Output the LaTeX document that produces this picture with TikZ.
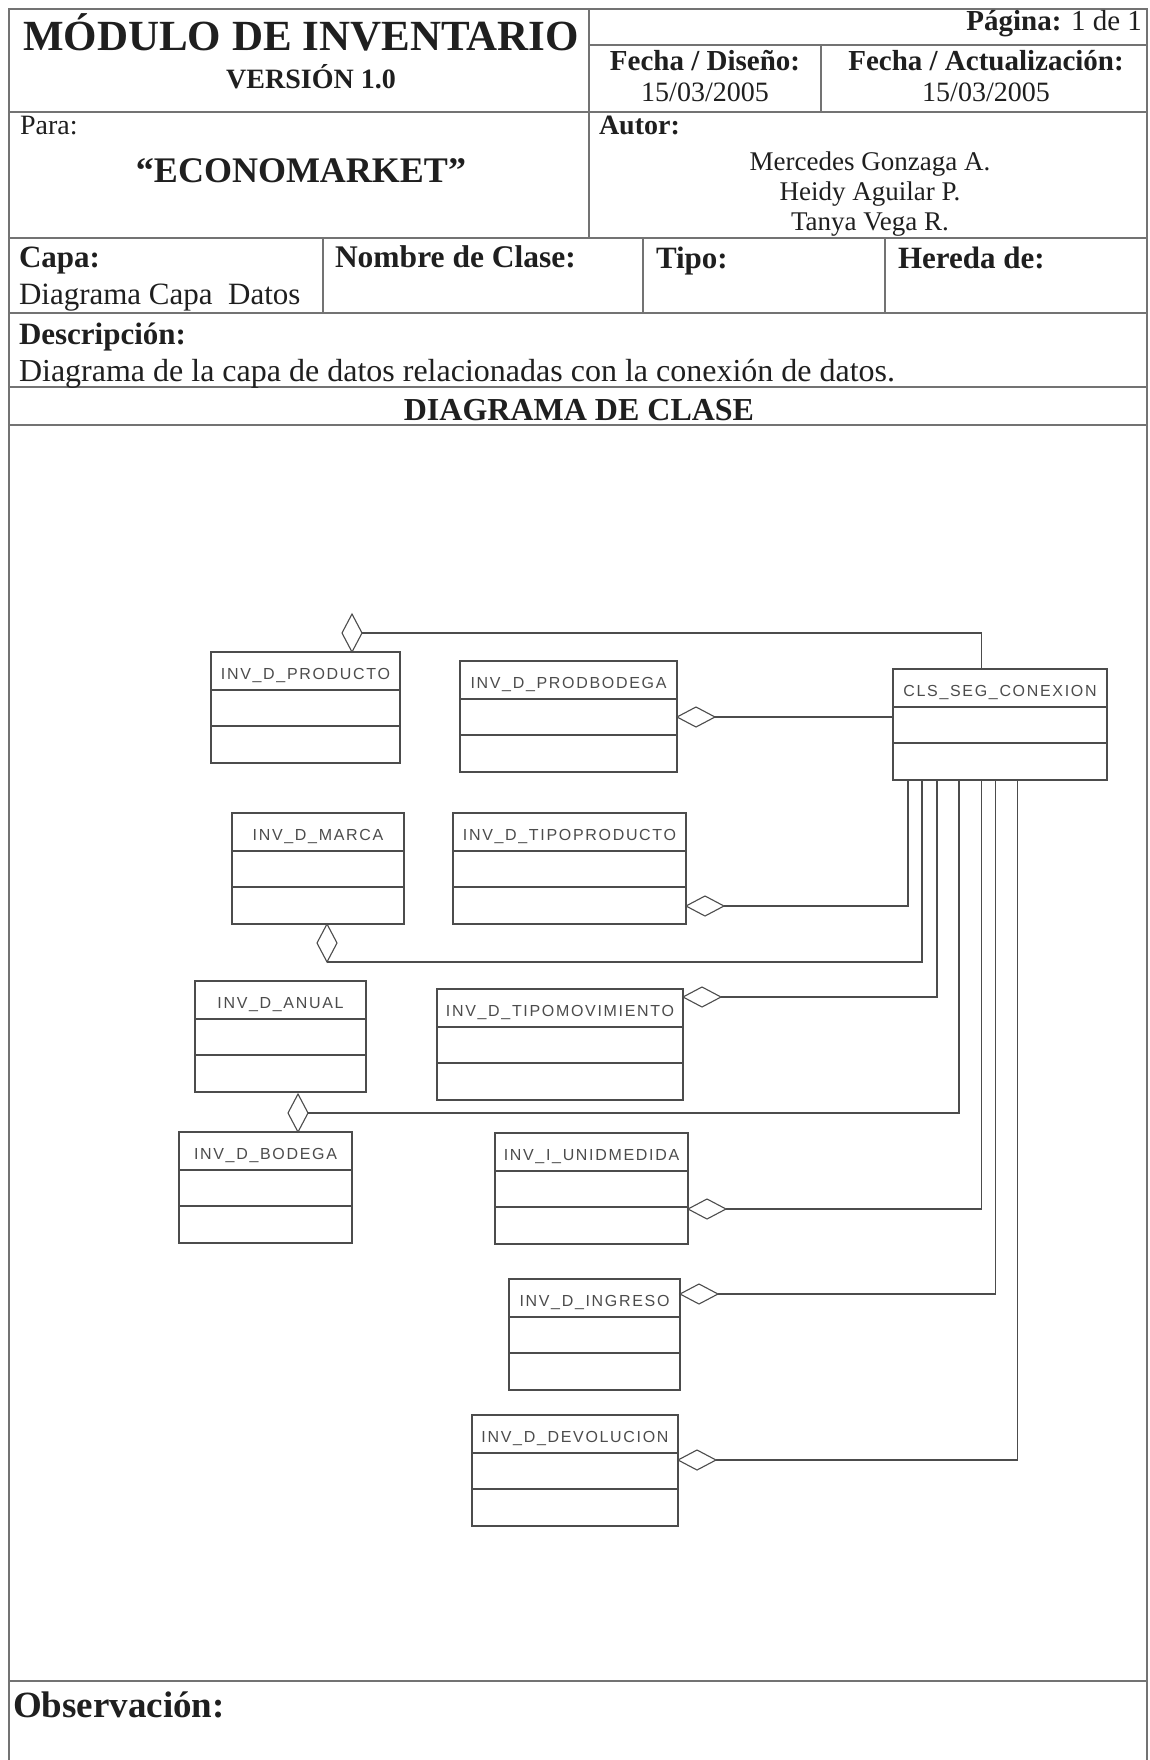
\documentclass[tikz,border=0pt]{standalone}
\usepackage{fontspec}
\setmainfont{Liberation Serif}
\newfontfamily\umlfont[LetterSpace=10.5]{Liberation Sans}
\usetikzlibrary{shapes.geometric,calc}
\definecolor{tline}{gray}{0.45}
\definecolor{clsline}{gray}{0.3}
\definecolor{clstext}{gray}{0.3}
\definecolor{ink}{gray}{0.12}
\tikzset{
  hdr/.style={inner sep=0pt, outer sep=0pt, text=ink, font=\fontsize{#1}{#1}\selectfont},
  hdrb/.style={inner sep=0pt, outer sep=0pt, text=ink, font=\fontsize{#1}{#1}\selectfont\bfseries},
  grid/.style={draw=tline, line width=1.4pt},
  classbox/.style={draw=clsline, line width=1.2pt, rectangle, inner sep=0pt, outer sep=0pt, minimum height=111pt},
  classlabel/.style={inner sep=0pt, text=clstext, font=\umlfont\fontsize{16}{16}\selectfont, anchor=base},
  divline/.style={draw=clsline, line width=1.2pt},
  vdiam/.style={diamond, draw=clsline, line width=1.1pt, fill=white, inner sep=0pt, outer sep=0pt, minimum width=20pt, minimum height=38pt},
  hdiam/.style={diamond, draw=clsline, line width=1.1pt, fill=white, inner sep=0pt, outer sep=0pt, minimum width=38pt, minimum height=20pt},
  conn/.style={draw=clsline, line width=1.1pt},
}
\newcommand\umlclass[5]{% name, x1, x2, top, label
  \node[classbox, anchor=north west, minimum width={#3-#2}] (#1) at (#2,#4) {};
  \node[classlabel] (#1-name) at ($(#1.north)+(0,27)$) {#5};
  \draw[divline] ($(#1.north west)+(0,38)$) -- ($(#1.north east)+(0,38)$);
  \draw[divline] ($(#1.north west)+(0,74)$) -- ($(#1.north east)+(0,74)$);
}
\begin{document}
\begin{tikzpicture}[x=1pt,y=-1pt]
\fill[white] (0,0) rectangle (1149,1760);
\useasboundingbox (0,0) rectangle (1149,1760);

% ---------- form grid ----------
\draw[grid] (9,1760) -- (9,9) -- (1147,9) -- (1147,1760);
\draw[grid] (9,112) -- (1147,112);
\draw[grid] (589,45) -- (1147,45);
\draw[grid] (589,9) -- (589,238);
\draw[grid] (821,45) -- (821,112);
\draw[grid] (9,238) -- (1147,238);
\draw[grid] (323,238) -- (323,313);
\draw[grid] (643,238) -- (643,313);
\draw[grid] (885,238) -- (885,313);
\draw[grid] (9,313) -- (1147,313);
\draw[grid] (9,387) -- (1147,387);
\draw[grid] (9,425) -- (1147,425);
\draw[grid] (9,1681) -- (1147,1681);

% ---------- header texts ----------
\node[hdrb=43, anchor=base] (title) at (301,51) {MÓDULO DE INVENTARIO};
\node[hdrb=28, anchor=base] (version) at (311,89) {VERSIÓN 1.0};
\node[hdr=29, anchor=base east] (pagina) at (1142,31) {\bfseries Página: \mdseries 1 de 1};
\node[hdrb=29, anchor=base] (fdis) at (705,71) {Fecha / Diseño:};
\node[hdr=28, anchor=base] (fdisv) at (705,102) {15/03/2005};
\node[hdrb=29, anchor=base] (fact) at (986,71) {Fecha / Actualización:};
\node[hdr=28, anchor=base] (factv) at (986,102) {15/03/2005};
\node[hdr=28, anchor=base west] (para) at (20,135) {Para:};
\node[hdrb=36, anchor=base] (econo) at (301,183) {“ECONOMARKET”};
\node[hdrb=28, anchor=base west] (autor) at (599,135) {Autor:};
\node[hdr=27, anchor=base] (aut1) at (870,171) {Mercedes Gonzaga A.};
\node[hdr=27, anchor=base] (aut2) at (870,201) {Heidy Aguilar P.};
\node[hdr=27, anchor=base] (aut3) at (870,231) {Tanya Vega R.};
\node[hdrb=31, anchor=base west] (capa) at (19,268) {Capa:};
\node[hdr=31, anchor=base west] (capav) at (19,305) {Diagrama Capa\ \ Datos};
\node[hdrb=31.5, anchor=base west] (nombre) at (335,268) {Nombre de Clase:};
\node[hdrb=31, anchor=base west] (tipo) at (656,269) {Tipo:};
\node[hdrb=31, anchor=base west] (hereda) at (898,269) {Hereda de:};
\node[hdrb=31, anchor=base west] (desc) at (19,344) {Descripción:};
\node[hdr=32, anchor=base west] (descv) at (19,381) {Diagrama de la capa de datos relacionadas con la conexión de datos.};
\node[hdrb=32, anchor=base] (diagt) at (579,420) {DIAGRAMA DE CLASE};
\node[hdrb=37, anchor=base west] (obs) at (13,1717) {Observación:};

% ---------- class boxes ----------
\umlclass{prod}{211}{400}{652}{INV\_D\_PRODUCTO}
\umlclass{prodbod}{460}{677}{661}{INV\_D\_PRODBODEGA}
\umlclass{cls}{893}{1107}{669}{CLS\_SEG\_CONEXION}
\umlclass{marca}{232}{404}{813}{INV\_D\_MARCA}
\umlclass{tprod}{453}{686}{813}{INV\_D\_TIPOPRODUCTO}
\umlclass{anual}{195}{366}{981}{INV\_D\_ANUAL}
\umlclass{tmov}{437}{683}{989}{INV\_D\_TIPOMOVIMIENTO}
\umlclass{bodega}{179}{352}{1132}{INV\_D\_BODEGA}
\umlclass{unid}{495}{688}{1133}{INV\_I\_UNIDMEDIDA}
\umlclass{ingreso}{509}{680}{1279}{INV\_D\_INGRESO}
\umlclass{devol}{472}{678}{1415}{INV\_D\_DEVOLUCION}

% ---------- aggregation diamonds ----------
\node[vdiam, anchor=south] (dProd) at (352,652) {};
\node[hdiam, anchor=west] (dPB) at (677,717) {};
\node[hdiam, anchor=west] (dTP) at (686,906) {};
\node[vdiam, anchor=north] (dMarca) at (327,924) {};
\node[hdiam, anchor=west] (dTM) at (683,997) {};
\node[vdiam, anchor=south] (dBod) at (298,1132) {};
\node[hdiam, anchor=west] (dUM) at (688,1209) {};
\node[hdiam, anchor=west] (dIng) at (680,1294) {};
\node[hdiam, anchor=west] (dDev) at (678,1460) {};

% ---------- connectors ----------
\draw[conn] (dProd.east) -| ([xshift=-18.3pt]cls.north);
\draw[conn] (dPB.east) -- (dPB.east -| cls.west);
\draw[conn] (dTP.east) -| ([xshift=-92pt]cls.south);
\draw[conn] (dMarca.south) -| ([xshift=-78pt]cls.south);
\draw[conn] (dTM.east) -| ([xshift=-63pt]cls.south);
\draw[conn] (dBod.east) -| ([xshift=-41pt]cls.south);
\draw[conn] (dUM.east) -| ([xshift=-18.5pt]cls.south);
\draw[conn] (dIng.east) -| ([xshift=-4.5pt]cls.south);
\draw[conn] (dDev.east) -| ([xshift=17.5pt]cls.south);
\end{tikzpicture}
\end{document}
